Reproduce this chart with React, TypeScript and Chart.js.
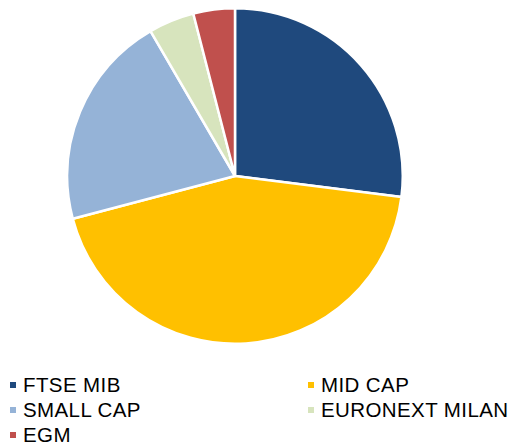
import React, { useEffect, useRef } from "react";
import { Chart, registerables } from "chart.js";

Chart.register(...registerables);

const categories = ["FTSE MIB", "MID CAP", "SMALL CAP", "EURONEXT MILAN", "EGM"];
const shares = [27.0, 43.9, 20.7, 4.4, 4.0];
const colors = ["#1F497D", "#FFC000", "#95B3D7", "#D7E4BD", "#C0504D"];

const FONT = "'Liberation Sans', Arial, sans-serif";

export default function App() {
  const ref = useRef<HTMLCanvasElement | null>(null);

  useEffect(() => {
    if (!ref.current) return;
    const chart = new Chart(ref.current, {
      type: "pie",
      data: {
        labels: categories,
        datasets: [
          {
            data: shares,
            backgroundColor: colors,
            borderColor: "#FFFFFF",
            borderWidth: 2.5,
          },
        ],
      },
      options: {
        responsive: false,
        maintainAspectRatio: false,
        animation: false,
        layout: { padding: 0 },
        plugins: {
          legend: { display: false },
          tooltip: { enabled: false },
        },
      },
    });
    return () => chart.destroy();
  }, []);

  const legendPos = [
    { left: 10, top: 385 },
    { left: 308, top: 385 },
    { left: 10, top: 410 },
    { left: 308, top: 410 },
    { left: 10, top: 435 },
  ];

  return (
    <div
      style={{
        position: "fixed",
        left: 0,
        top: 0,
        width: 513,
        height: 445,
        background: "#FFFFFF",
        overflow: "hidden",
        fontFamily: FONT,
      }}
    >
      <canvas
        ref={ref}
        width={338}
        height={338}
        style={{ position: "absolute", left: 66, top: 7, width: 338, height: 338 }}
      />
      {categories.map((c, i) => (
        <div
          key={c}
          style={{
            position: "absolute",
            left: legendPos[i].left,
            top: legendPos[i].top - 12,
            height: 24,
            display: "flex",
            alignItems: "center",
            whiteSpace: "nowrap",
            fontSize: 20.5,
            letterSpacing: "0.4px",
            color: "#000000",
            lineHeight: "24px",
          }}
        >
          <span
            style={{
              display: "inline-block",
              width: 6,
              height: 6,
              background: colors[i],
              marginRight: 7,
            }}
          />
          <span>{c}</span>
        </div>
      ))}
    </div>
  );
}
